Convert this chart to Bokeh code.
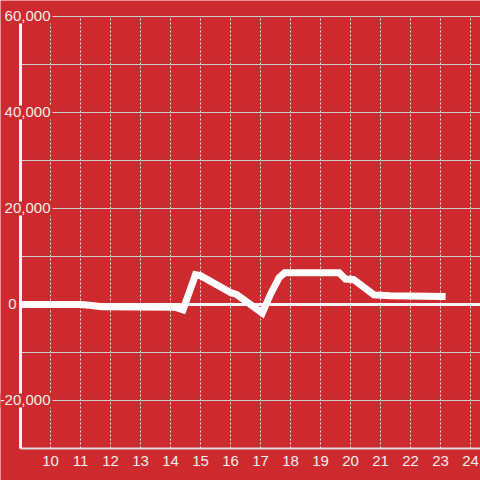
from bokeh.plotting import figure
from bokeh.embed import file_html
from bokeh.resources import INLINE
from bokeh.core.properties import value

# ---- data ----
hours = [9.0, 10.0, 11.0, 11.3, 11.7, 14.15, 14.42, 14.83, 15.0, 16.0, 16.2,
         17.06, 17.33, 17.62, 17.8, 19.62, 19.83, 20.1, 20.78, 21.33, 23.17]
values = [0, 0, 0, -150, -450, -550, -1100, 6200, 6000, 2500, 2100,
          -1800, 2100, 5600, 6600, 6600, 5300, 5200, 2000, 1800, 1650]

x_ticks = [10, 11, 12, 13, 14, 15, 16, 17, 18, 19, 20, 21, 22, 23, 24]
x_tick_labels = [str(t) for t in x_ticks]
y_grid = [-20000, -10000, 10000, 20000, 30000, 40000, 50000, 60000]
y_label_vals = [60000, 40000, 20000, -20000]
y_labels = ["60,000", "40,000", "20,000", "-20,000"]
zero_label = "0"

BG = "#cc2a2f"
TXT = "#f3ecec"
FONT = value("Liberation Sans")

x_min, y_min, y_max = 9.0, -30000, 60000

p = figure(width=480, height=480,
           x_range=(8.3333, 24.3333), y_range=(-36667, 63333),
           output_backend="svg", toolbar_location=None,
           min_border=0, min_border_left=0, min_border_right=0,
           min_border_top=0, min_border_bottom=0)
p.axis.visible = False
p.grid.visible = False
p.outline_line_color = None
p.background_fill_color = BG
p.border_fill_color = BG

x_edge = 24.3333 + 1

# vertical dotted grid
p.segment(x0=x_ticks, y0=[y_min] * len(x_ticks), x1=x_ticks, y1=[y_max] * len(x_ticks),
          line_color="#e6e6e6", line_width=1, line_dash="2 2")
# horizontal grid
p.segment(x0=[x_min] * len(y_grid), y0=y_grid, x1=[x_edge] * len(y_grid), y1=y_grid,
          line_color="#cfcfcf", line_width=1)
# bottom axis line
p.segment(x0=[x_min], y0=[y_min], x1=[x_edge], y1=[y_min],
          line_color="#dcdcdc", line_width=2)
# zero line
p.segment(x0=[x_min], y0=[0], x1=[x_edge], y1=[0],
          line_color="#f4f4f4", line_width=3)
# y axis line
p.segment(x0=[x_min], y0=[y_min], x1=[x_min], y1=[y_max],
          line_color="#f4f4f4", line_width=3)

# data line
p.line(hours, values, line_color="#ffffff", line_width=7, line_join="miter", line_cap="butt")

# y labels with background
p.text(x=[x_min] * len(y_label_vals), y=y_label_vals, text=y_labels,
       x_offset=32, text_align="right", text_baseline="middle",
       text_font=FONT, text_font_size="15px", text_color=TXT,
       background_fill_color=BG, padding=2)
p.text(x=[x_min], y=[0], text=[zero_label],
       x_offset=-4, text_align="right", text_baseline="middle",
       text_font=FONT, text_font_size="15px", text_color=TXT)

# x tick labels
p.text(x=x_ticks, y=[y_min] * len(x_ticks), text=x_tick_labels,
       y_offset=13, text_align="center", text_baseline="middle",
       text_font=FONT, text_font_size="15px", text_color=TXT)

open("out.html", "w").write(file_html(p, INLINE))
